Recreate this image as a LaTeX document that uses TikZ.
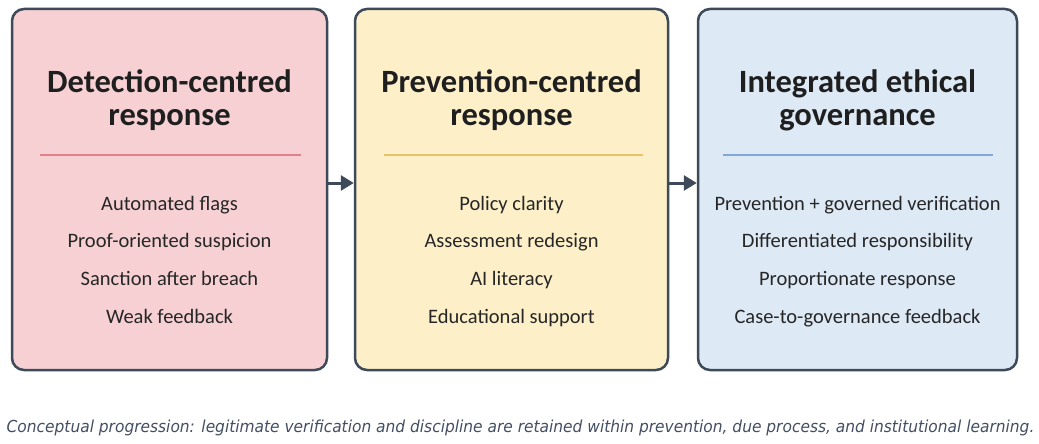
\documentclass[tikz,border=0pt]{standalone}
\usepackage{fontspec}
\setmainfont{Carlito}
\newfontfamily\notefont[FakeStretch=0.935]{DejaVu Sans}
\usepackage{xcolor}
\definecolor{box-edge}{RGB}{62,74,89}
\definecolor{pink-fill}{RGB}{246,208,211}
\definecolor{pink-rule}{RGB}{226,128,138}
\definecolor{sand-fill}{RGB}{253,240,200}
\definecolor{sand-rule}{RGB}{234,196,100}
\definecolor{sky-fill}{RGB}{221,233,245}
\definecolor{sky-rule}{RGB}{128,168,214}
\definecolor{note-grey}{RGB}{66,78,98}
\usetikzlibrary{arrows.meta}

\begin{document}
\begin{tikzpicture}[x=1pt,y=-1pt,>={Triangle[length=13pt,width=15pt]},
	panel/.style={draw=box-edge,line width=2.5pt,rounded corners=12pt,minimum height=361pt,inner sep=0pt},
	head/.style={font=\bfseries\fontsize{32.5}{33}\selectfont,align=center,text=black!88},
	item/.style={font=\fontsize{20.5}{25}\selectfont,anchor=base,text=black!85}]
	\useasboundingbox (0,0) rectangle (1039,444);
	\node[panel,fill=pink-fill,minimum width=315pt] (det) at (169.5,189.5) {};
	\node[panel,fill=sand-fill,minimum width=313pt] (prev) at (511.5,189.5) {};
	\node[panel,fill=sky-fill,minimum width=319pt] (integ) at (857.5,189.5) {};
	
	\node[head] (det-head) at (169.5,100) {Detection-centred\\response};
	\node[head] (prev-head) at (511.5,100) {Prevention-centred\\response};
	\node[head] (integ-head) at (857.5,100) {Integrated ethical\\governance};
	
	\draw[pink-rule,line width=2pt] (40,155)--(301,155);
	\draw[sand-rule,line width=2pt] (384,155)--(643,155);
	\draw[sky-rule,line width=2pt] (723,155)--(993,155);
	
	\foreach \t [count=\i] in {Automated flags,Proof-oriented suspicion,Sanction after breach,Weak feedback}
		\node[item] (det-\i) at (169.5,172.5+37.7*\i) {\t};
	\foreach \t [count=\i] in {Policy clarity,Assessment redesign,AI literacy,Educational support}
		\node[item] (prev-\i) at (511.5,172.5+37.7*\i) {\t};
	\foreach \t [count=\i] in {Prevention + governed verification,Differentiated responsibility,Proportionate response,Case-to-governance feedback}
		\node[item] (integ-\i) at (857.5,172.5+37.7*\i) {\t};
	
	\draw[->,box-edge,line width=3pt] ([yshift=6.5pt]det.east)--([yshift=6.5pt]prev.west);
	\draw[->,box-edge,line width=3pt] ([yshift=6.5pt]prev.east)--([yshift=6.5pt]integ.west);
	
	\node[font=\notefont\itshape\fontsize{16.5}{20}\selectfont,text=note-grey,anchor=base] (note) at (520.5,432) {Conceptual progression: legitimate verification and discipline are retained within prevention, due process, and institutional learning.};
\end{tikzpicture}
\end{document}
